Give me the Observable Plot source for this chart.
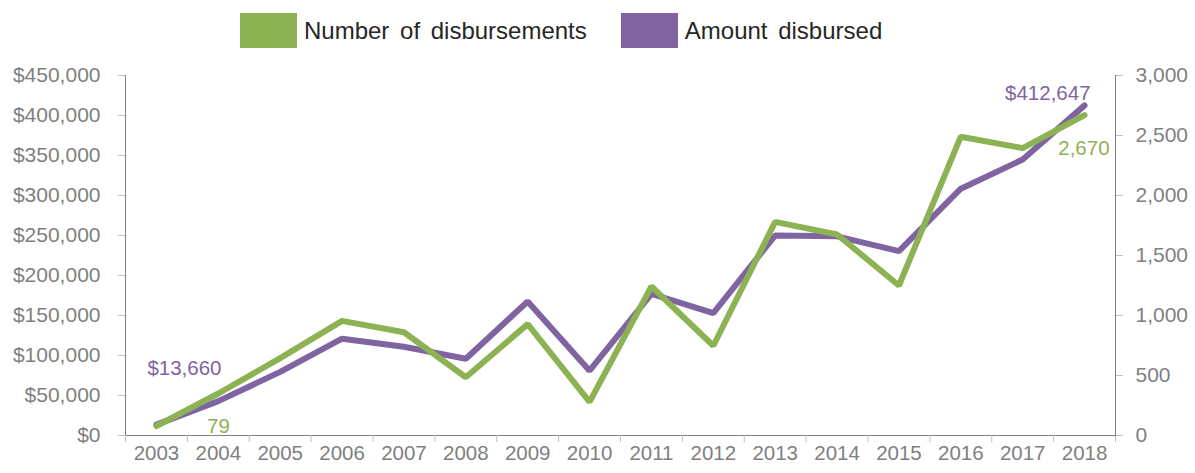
<!DOCTYPE html>
<html>
<head>
<meta charset="utf-8">
<script src="https://cdn.jsdelivr.net/npm/d3@7"></script>
<script src="https://cdn.jsdelivr.net/npm/@observablehq/plot@0.6"></script>
<style>
  body { margin: 0; background: #fff; font-family: "Liberation Sans", Arial, sans-serif; }
  #wrap { position: relative; width: 1195px; height: 473px; overflow: hidden; }
  #legend { height: 60px; display: flex; align-items: flex-start; padding-left: 240px; box-sizing: border-box; }
  .item { display: flex; align-items: center; margin-top: 13px; margin-right: 34px; }
  .sw { width: 57px; height: 35px; margin-right: 7px; }
  .lab { font-size: 24px; color: #262626; word-spacing: 4px; }
  #chart { position: relative; height: 413px; }
  #chart svg { position: absolute; left: 0; top: 0; }
  #chart svg g[aria-label*="axis"] line,
  #chart svg g[aria-label*="axis"] path { stroke: #bfbfbf !important; }
</style>
</head>
<body>
<div id="wrap">
  <div id="legend"></div>
  <div id="chart"></div>
</div>
<script>
// ---- data ----
const years = [2003, 2004, 2005, 2006, 2007, 2008, 2009, 2010, 2011, 2012, 2013, 2014, 2015, 2016, 2017, 2018];
const amountDisbursed = [13660, 43000, 79500, 121000, 111000, 96000, 167500, 81000, 177000, 153000, 250000, 249000, 230500, 308500, 345000, 412647];
const numberDisbursements = [79, 350, 645, 955, 860, 485, 928, 280, 1242, 748, 1780, 1675, 1250, 2490, 2395, 2670];
const leftTicks = [0, 50000, 100000, 150000, 200000, 250000, 300000, 350000, 400000, 450000];
const rightTicks = [0, 500, 1000, 1500, 2000, 2500, 3000];
const seriesNames = ["Number of disbursements", "Amount disbursed"];
const GREEN = "#8db254";
const PURPLE = "#8064a2";
const GRAY = "#7f7f7f";

// legend
const legend = document.getElementById("legend");
[[seriesNames[0], GREEN], [seriesNames[1], PURPLE]].forEach(([name, c]) => {
  const it = document.createElement("div");
  it.className = "item";
  it.innerHTML = `<div class="sw" style="background:${c}"></div><div class="lab">${name}</div>`;
  legend.appendChild(it);
});

const data = years.map((year, i) => ({year, amount: amountDisbursed[i], count: numberDisbursements[i]}));
const first = data[0], last = data[data.length - 1];
const bandEdges = years.map(y => y - 0.5).concat([years[years.length - 1] + 0.5]);
const xDomain = [bandEdges[0], bandEdges[bandEdges.length - 1]];

const common = {
  width: 1195, height: 413,
  marginTop: 15, marginBottom: 38, marginLeft: 125, marginRight: 80,
  style: {fontFamily: "'Liberation Sans', Arial, sans-serif", fontSize: "21px", color: GRAY, background: "transparent"}
};

const plot1 = Plot.plot({
  ...common,
  x: {type: "linear", domain: xDomain, ticks: bandEdges, tickFormat: () => "", tickSize: 7, line: true, label: null},
  y: {domain: [0, 450000], ticks: leftTicks, tickFormat: d => "$" + d3.format(",")(d), tickSize: 7, tickPadding: 18, line: true, label: null},
  marks: [
    Plot.text(years, {x: d => d, frameAnchor: "bottom", dy: 24, text: d => String(d), fill: GRAY, fontSize: 20.5}),
    Plot.line(data, {x: "year", y: "amount", stroke: PURPLE, strokeWidth: 6, strokeLinejoin: "miter"}),
    Plot.text([first], {x: "year", y: "amount", text: d => "$" + d3.format(",")(d.amount), fill: PURPLE, fontSize: 20.5, dx: 28, dy: -56}),
    Plot.text([last], {x: "year", y: "amount", text: d => "$" + d3.format(",")(d.amount), fill: PURPLE, fontSize: 20.5, textAnchor: "end", dx: 6, dy: -12})
  ]
});

const plot2 = Plot.plot({
  ...common,
  x: {type: "linear", domain: xDomain, axis: null},
  y: {domain: [0, 3000], axis: "right", ticks: rightTicks, tickFormat: d => d3.format(",")(d), tickSize: 7, tickPadding: 13, line: true, label: null},
  marks: [
    Plot.line(data, {x: "year", y: "count", stroke: GREEN, strokeWidth: 6, strokeLinejoin: "miter"}),
    Plot.text([first], {x: "year", y: "count", text: d => d3.format(",")(d.count), fill: GREEN, fontSize: 20.5, dx: 62, dy: 0}),
    Plot.text([last], {x: "year", y: "count", text: d => d3.format(",")(d.count), fill: GREEN, fontSize: 20.5, textAnchor: "end", dx: 25, dy: 33})
  ]
});

const chart = document.getElementById("chart");
chart.appendChild(plot1);
chart.appendChild(plot2);
</script>
</body>
</html>
